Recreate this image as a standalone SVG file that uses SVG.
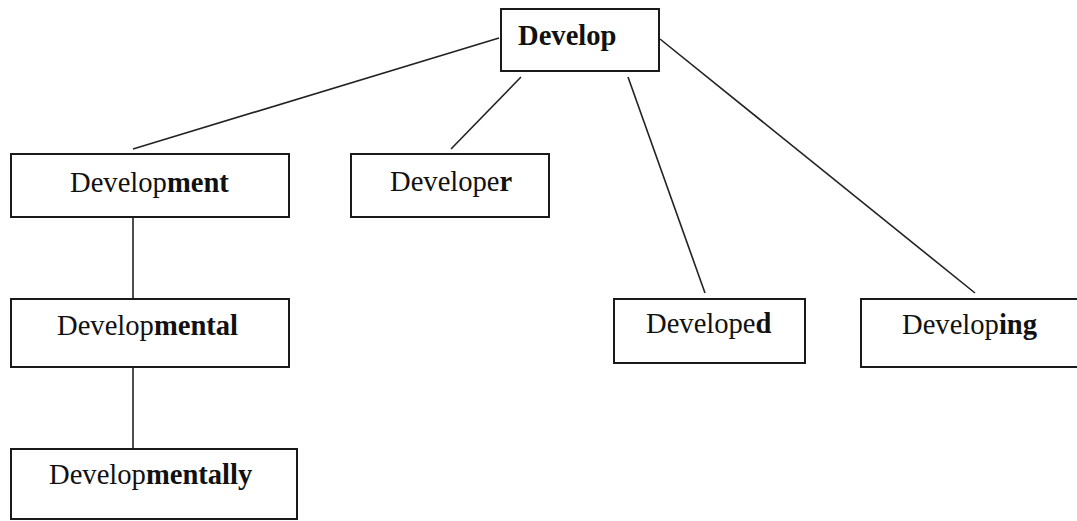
<svg xmlns="http://www.w3.org/2000/svg" width="1077" height="521" viewBox="0 0 1077 521">
<style>
.box{fill:#fff;stroke:#1a1a1a;stroke-width:2}
.lbl{font-family:"Liberation Serif","Times New Roman",serif;font-size:28.6px;fill:#111}
.b{font-weight:bold}
.conn line{stroke:#222;stroke-width:1.6}
</style>
<rect width="1077" height="521" fill="#fff"/>
<g id="connectors" class="conn">
<line x1="499" y1="38" x2="133" y2="149"/>
<line x1="521" y1="77" x2="451" y2="149"/>
<line x1="628" y1="77" x2="705" y2="293"/>
<line x1="660" y1="39" x2="975" y2="293"/>
<line x1="133" y1="217" x2="133" y2="299"/>
<line x1="133" y1="367" x2="133" y2="449"/>
</g>
<g id="develop">
<rect class="box" x="501" y="9" width="158" height="62"/>
<text class="lbl b" x="518" y="45">Develop</text>
</g>
<g id="development">
<rect class="box" x="11" y="154" width="278" height="63"/>
<text class="lbl" x="70" y="192">Develop<tspan class="b">ment</tspan></text>
</g>
<g id="developer">
<rect class="box" x="351" y="154" width="198" height="63"/>
<text class="lbl" x="390" y="191">Develope<tspan class="b">r</tspan></text>
</g>
<g id="developmental">
<rect class="box" x="11" y="299" width="278" height="68"/>
<text class="lbl" x="57" y="335">Develop<tspan class="b">mental</tspan></text>
</g>
<g id="developmentally">
<rect class="box" x="11" y="449" width="286" height="70"/>
<text class="lbl" x="49" y="484">Develop<tspan class="b">mentally</tspan></text>
</g>
<g id="developed">
<rect class="box" x="614" y="299" width="191" height="64"/>
<text class="lbl" x="646" y="333">Develope<tspan class="b">d</tspan></text>
</g>
<g id="developing">
<rect class="box" x="861" y="299" width="230" height="68"/>
<text class="lbl" x="902" y="334">Develop<tspan class="b">ing</tspan></text>
</g>
</svg>
